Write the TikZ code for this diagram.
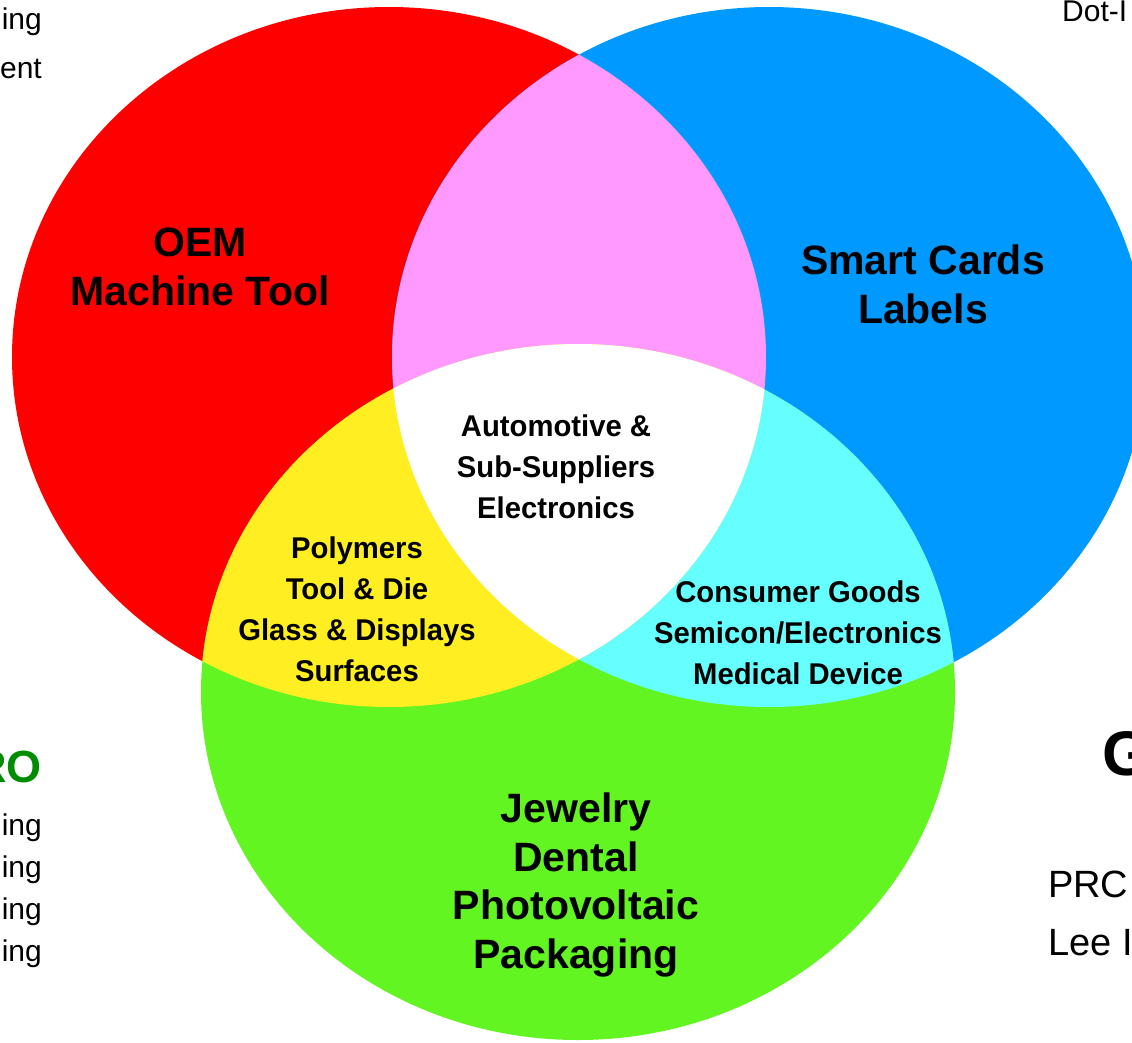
\documentclass[tikz,border=0pt]{standalone}
\usepackage{fontspec}
\setmainfont{Liberation Sans}
\newfontfamily\narrowsans[FakeStretch=0.975]{Liberation Sans}
\usetikzlibrary{positioning}

\definecolor{oemred}{HTML}{FF0000}
\definecolor{cardblue}{HTML}{0099FF}
\definecolor{jewelgreen}{HTML}{63F521}
\definecolor{mixpink}{HTML}{FF99FF}
\definecolor{mixyellow}{HTML}{FFEE22}
\definecolor{mixcyan}{HTML}{66FFFF}
\definecolor{rogreen}{HTML}{008C00}

\begin{document}
\begin{tikzpicture}[x=1pt, y=-1pt,
  bigtag/.style = {align=center, inner sep=0, anchor=base, font=\fontsize{41}{48.5}\selectfont\bfseries},
  midtag/.style = {align=center, inner sep=0, anchor=base, font=\narrowsans\fontsize{30}{41}\selectfont\bfseries},
  edgetext/.style = {inner sep=0, font=\fontsize{30}{36}\selectfont},
  node distance=42pt]

\useasboundingbox (0,0) rectangle (1132,1042);
\clip (0,0) rectangle (1132,1042);
\fill[white] (0,0) rectangle (1132,1042);

\coordinate (R) at (389,357);
\coordinate (B) at (769,357);
\coordinate (G) at (578,692);

% the three sets
\fill[oemred] (R) ellipse [x radius=377pt, y radius=350pt];
\fill[cardblue] (B) ellipse [x radius=377pt, y radius=350pt];
\fill[jewelgreen] (G) ellipse [x radius=377pt, y radius=348pt];

% overlaps
\begin{scope}
\clip (B) ellipse [x radius=377pt, y radius=350pt];
\fill[mixcyan] (G) ellipse [x radius=377pt, y radius=348pt];
\end{scope}
\begin{scope}
\clip (R) ellipse [x radius=377pt, y radius=350pt];
\fill[mixpink] (B) ellipse [x radius=377pt, y radius=350pt];
\fill[mixyellow] (G) ellipse [x radius=377pt, y radius=348pt];
\clip (B) ellipse [x radius=377pt, y radius=350pt];
\fill[white] (G) ellipse [x radius=377pt, y radius=348pt];
\end{scope}

% labels, placed at the baseline of their last line
\node[bigtag](oem) at (200,305) {OEM\\Machine Tool};
\node[bigtag](cards) at (923,323) {Smart Cards\\Labels};
\node[bigtag](jewel) at (576,968) {Jewelry\\Dental\\Photovoltaic\\Packaging};
\node[midtag](auto) at (556,518) {Automotive \&\\Sub-Suppliers\\Electronics};
\node[midtag](poly) at (357,681) {Polymers\\Tool \& Die\\Glass \& Displays\\Surfaces};
\node[midtag](cons) at (798,684) {Consumer Goods\\Semicon/Electronics\\Medical Device};

% cut-off text at the edges
\node[edgetext, anchor=base east](topA) at (42,29) {ing};
\node[edgetext, anchor=base east](topB) at (42,78) {ent};
\node[edgetext, anchor=base west](dot) at (1062,21) {Dot-I};
\node[edgetext, anchor=base east, text=rogreen, font=\fontsize{45}{54}\selectfont\bfseries](ro) at (42,782) {RO};
\node[edgetext, anchor=base east](ing1) at (42,835) {ing};
\node[edgetext, below of=ing1](ing2) {ing};
\node[edgetext, below of=ing2](ing3) {ing};
\node[edgetext, below of=ing3](ing4) {ing};
\node[edgetext, anchor=base west, font=\fontsize{63}{70}\selectfont\bfseries](gee) at (1102,775) {G};
\node[edgetext, anchor=base west, font=\fontsize{38}{44}\selectfont](prc) at (1048,897) {PRC};
\node[edgetext, anchor=base west, font=\fontsize{38}{44}\selectfont](lee) at (1048,955) {Lee I};

\end{tikzpicture}
\end{document}
